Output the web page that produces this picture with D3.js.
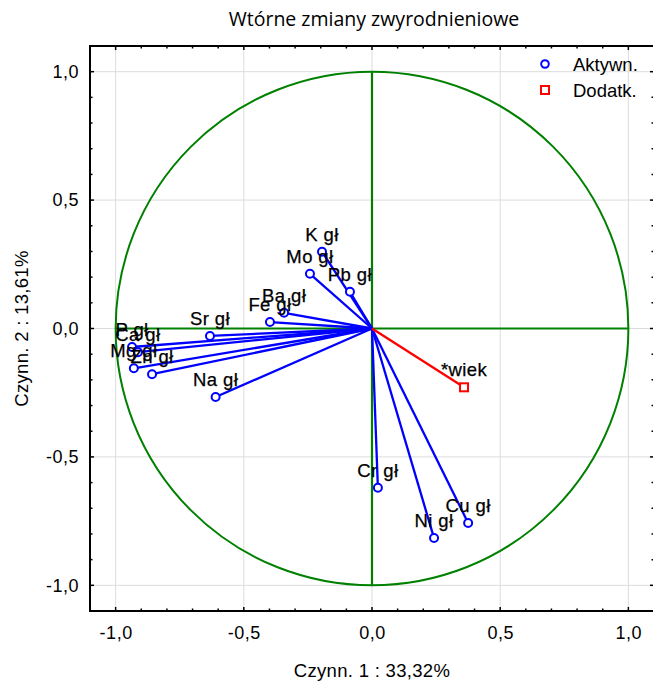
<!DOCTYPE html>
<html>
<head>
<meta charset="utf-8">
<script src="https://cdn.jsdelivr.net/npm/d3@7"></script>
<style>
  html, body { margin: 0; padding: 0; background: #fff; }
  svg { display: block; }
  text { font-family: "Liberation Sans", Arial, sans-serif; fill: #000; }
</style>
</head>
<body>
<svg id="chart" width="653" height="684"></svg>
<script>
// Active variables: loadings on factor 1 and factor 2
const variables = ["K gł", "Mo gł", "Pb gł", "Ba gł", "Fe gł", "Sr gł", "P gł", "Ca gł", "Mg gł", "Zn gł", "Na gł", "Cr gł", "Ni gł", "Cu gł"];
const factor1 = [-0.195, -0.242, -0.086, -0.343, -0.398, -0.632, -0.936, -0.913, -0.929, -0.858, -0.610, 0.023, 0.242, 0.375];
const factor2 = [0.299, 0.213, 0.143, 0.061, 0.025, -0.029, -0.072, -0.092, -0.155, -0.178, -0.267, -0.620, -0.816, -0.757];

// Supplementary variable
const suppVariables = ["*wiek"];
const suppFactor1 = [0.359];
const suppFactor2 = [-0.229];

const majorTicks = [-1.0, -0.5, 0.0, 0.5, 1.0];
const minorTicks = d3.range(-11, 12).map(i => i / 10);
const legendItems = ["Aktywn.", "Dodatk."];

const title = "Wtórne zmiany zwyrodnieniowe";
const xTitle = "Czynn. 1 : 33,32%";
const yTitle = "Czynn. 2 : 13,61%";

const svg = d3.select("#chart");
const fmt = v => d3.format(".1f")(v).replace(".", ",").replace("−", "-");

const x = d3.scaleLinear().domain([-1.1, 1.1]).range([90, 654]);
const y = d3.scaleLinear().domain([-1.1, 1.1]).range([611, 46]);

const green = "#008000", blue = "#0000ff", red = "#ff0000";

// grid lines at major ticks
const grid = svg.append("g");
grid.selectAll(".gx").data(majorTicks).join("line")
  .attr("x1", d => x(d)).attr("x2", d => x(d))
  .attr("y1", y(1.1)).attr("y2", y(-1.1))
  .attr("stroke", "#dcdcdc").attr("stroke-width", 1);
grid.selectAll(".gy").data(majorTicks).join("line")
  .attr("y1", d => y(d)).attr("y2", d => y(d))
  .attr("x1", x(-1.1)).attr("x2", x(1.1))
  .attr("stroke", "#dcdcdc").attr("stroke-width", 1);

// unit circle and reference axes
svg.append("ellipse")
  .attr("cx", x(0)).attr("cy", y(0))
  .attr("rx", x(1) - x(0)).attr("ry", y(0) - y(1))
  .attr("fill", "none").attr("stroke", green).attr("stroke-width", 2);
svg.append("line")
  .attr("x1", x(-1)).attr("x2", x(1)).attr("y1", y(0)).attr("y2", y(0))
  .attr("stroke", green).attr("stroke-width", 2.2);
svg.append("line")
  .attr("x1", x(0)).attr("x2", x(0)).attr("y1", y(1)).attr("y2", y(-1))
  .attr("stroke", green).attr("stroke-width", 2.2);

// axes with inward ticks on all four sides
function styleAxis(g) {
  g.select(".domain").remove();
  g.selectAll("line").attr("stroke", "#000").attr("stroke-width", 1.5);
}
const isMajor = d => majorTicks.some(m => Math.abs(m - d) < 1e-9);
const tickLen = d => isMajor(d) ? 4 : 2.5;

function ticks(side) {
  const g = svg.append("g");
  minorTicks.forEach(d => {
    const L = tickLen(d);
    if (side === "bottom") g.append("line").attr("x1", x(d)).attr("x2", x(d)).attr("y1", y(-1.1)).attr("y2", y(-1.1) - L);
    if (side === "top") g.append("line").attr("x1", x(d)).attr("x2", x(d)).attr("y1", y(1.1)).attr("y2", y(1.1) + L);
    if (side === "left") g.append("line").attr("y1", y(d)).attr("y2", y(d)).attr("x1", x(-1.1)).attr("x2", x(-1.1) + L);
    if (side === "right") g.append("line").attr("y1", y(d)).attr("y2", y(d)).attr("x1", x(1.1)).attr("x2", x(1.1) - L);
  });
  g.selectAll("line").attr("stroke", "#000").attr("stroke-width", 1.5);
}
["bottom", "top", "left", "right"].forEach(ticks);

// tick labels through D3 axes
const xAxis = svg.append("g").attr("transform", `translate(0,${y(-1.1)})`)
  .call(d3.axisBottom(x).tickValues(majorTicks).tickFormat(fmt).tickSize(0).tickPadding(15));
styleAxis(xAxis);
xAxis.selectAll("text").style("font-size", "18px").attr("fill", "#000").style("letter-spacing", "0.5px");

const yAxis = svg.append("g").attr("transform", `translate(${x(-1.1)},0)`)
  .call(d3.axisLeft(y).tickValues(majorTicks).tickFormat(fmt).tickSize(0).tickPadding(11));
styleAxis(yAxis);
yAxis.selectAll("text").style("font-size", "18px").attr("fill", "#000").style("letter-spacing", "0.5px");

// frame
svg.append("rect")
  .attr("x", x(-1.1)).attr("y", y(1.1))
  .attr("width", x(1.1) - x(-1.1)).attr("height", y(-1.1) - y(1.1))
  .attr("fill", "none").attr("stroke", "#000").attr("stroke-width", 2);

// loading vectors
const active = variables.map((name, i) => ({ name, f1: factor1[i], f2: factor2[i] }));
const supp = suppVariables.map((name, i) => ({ name, f1: suppFactor1[i], f2: suppFactor2[i] }));

svg.append("g").selectAll("line").data(active).join("line")
  .attr("x1", x(0)).attr("y1", y(0))
  .attr("x2", d => x(d.f1)).attr("y2", d => y(d.f2))
  .attr("stroke", blue).attr("stroke-width", 2.3);
svg.append("g").selectAll("line").data(supp).join("line")
  .attr("x1", x(0)).attr("y1", y(0))
  .attr("x2", d => x(d.f1)).attr("y2", d => y(d.f2))
  .attr("stroke", red).attr("stroke-width", 2.3);

svg.append("g").selectAll("circle").data(active).join("circle")
  .attr("cx", d => x(d.f1)).attr("cy", d => y(d.f2)).attr("r", 4)
  .attr("fill", "#fff").attr("stroke", blue).attr("stroke-width", 2);
svg.append("g").selectAll("rect").data(supp).join("rect")
  .attr("x", d => x(d.f1) - 4).attr("y", d => y(d.f2) - 4)
  .attr("width", 8).attr("height", 8)
  .attr("fill", "#fff").attr("stroke", red).attr("stroke-width", 2);

// point labels centred above each marker
svg.append("g").selectAll("text").data(active.concat(supp)).join("text")
  .attr("x", d => x(d.f1)).attr("y", d => y(d.f2) - 11)
  .attr("text-anchor", "middle")
  .style("font-size", "18.5px").style("letter-spacing", "0.4px")
  .style("stroke", "#000").style("stroke-width", "0.25px")
  .text(d => d.name);

// legend
const legend = svg.append("g");
legend.append("circle").attr("cx", 545).attr("cy", 64).attr("r", 3.8)
  .attr("fill", "#fff").attr("stroke", blue).attr("stroke-width", 2);
legend.append("rect").attr("x", 541).attr("y", 86).attr("width", 8).attr("height", 8)
  .attr("fill", "#fff").attr("stroke", red).attr("stroke-width", 2);
legend.selectAll("text").data(legendItems).join("text")
  .attr("x", 573).attr("y", (d, i) => 71 + i * 26)
  .style("font-size", "18.5px")
  .text(d => d);

// titles
svg.append("text").attr("x", 374).attr("y", 26).attr("text-anchor", "middle")
  .style("font-family", "'Open Sans', sans-serif").style("font-size", "19.5px")
  .text(title);
svg.append("text").attr("x", 372).attr("y", 677).attr("text-anchor", "middle")
  .style("font-size", "18.5px").style("letter-spacing", "0.3px")
  .text(xTitle);
svg.append("text").attr("transform", `translate(28,${y(0)}) rotate(-90)`)
  .attr("text-anchor", "middle")
  .style("font-size", "18.5px").style("letter-spacing", "0.3px")
  .text(yTitle);
</script>
</body>
</html>
